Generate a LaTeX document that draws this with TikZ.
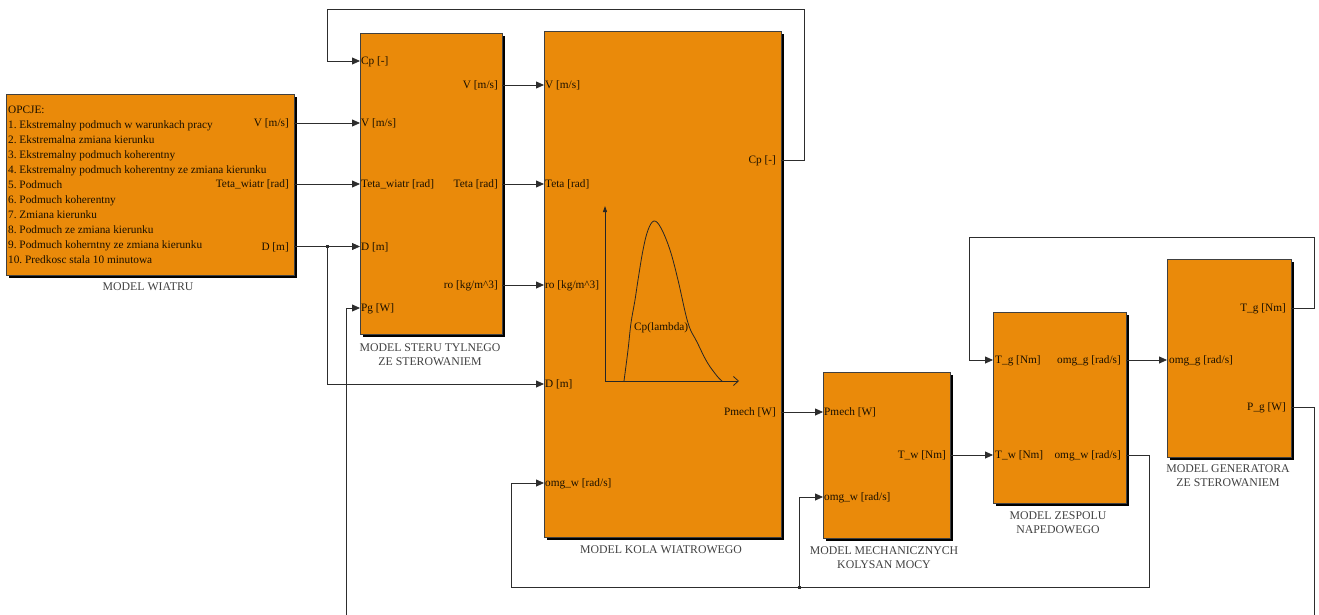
\documentclass[tikz,border=0pt]{standalone}
\usepackage{fontspec}
\setmainfont{Liberation Serif}
\usetikzlibrary{arrows.meta,shadows}
\definecolor{blkfill}{RGB}{234,138,10}
\definecolor{wirec}{RGB}{45,45,45}
\definecolor{txtc}{RGB}{25,15,0}
\frenchspacing
\begin{document}
\begin{tikzpicture}[x=1pt,y=-1pt,
  blk/.style={draw=black!75, fill=blkfill, line width=0.8pt, inner sep=0pt,
    general shadow={fill=black, shadow xshift=3pt, shadow yshift=-3pt}},
  wire/.style={draw=wirec, line width=0.8pt},
  sig/.style={wire, -{Triangle[length=8pt,width=7pt]}},
  inl/.style={anchor=base west, inner sep=0pt, yshift=-3.7pt, text=txtc, font=\fontsize{11.3}{13}\selectfont},
  outl/.style={anchor=base east, inner sep=0pt, yshift=-3.7pt, text=txtc, font=\fontsize{11.3}{13}\selectfont},
  ttl/.style={align=center, inner sep=0pt, text=black!75, font=\fontsize{11.8}{14}\selectfont},
  jdot/.style={fill=wirec, rectangle, inner sep=0pt, minimum size=3pt}]
\useasboundingbox (0,0) rectangle (1319,615);

% blocks
\node[blk, minimum width=288pt, minimum height=181pt] (wind) at (150,184.5) {};
\node[blk, minimum width=142pt, minimum height=301pt] (steru) at (431,183.5) {};
\node[blk, minimum width=237pt, minimum height=506pt] (kola) at (662.5,284) {};
\node[blk, minimum width=127pt, minimum height=166pt] (mech) at (886.5,455) {};
\node[blk, minimum width=133pt, minimum height=191pt] (zesp) at (1059.5,407.5) {};
\node[blk, minimum width=124pt, minimum height=198pt] (gen) at (1229,358) {};

% titles
\node[ttl] (twind) at (148,287) {MODEL WIATRU};
\node[ttl] (tsteru) at (430,355) {MODEL STERU TYLNEGO\\ZE STEROWANIEM};
\node[ttl] (tkola) at (661,549.5) {MODEL KOLA WIATROWEGO};
\node[ttl] (tmech) at (884,557.5) {MODEL MECHANICZNYCH\\KOLYSAN MOCY};
\node[ttl] (tzesp) at (1058,523) {MODEL ZESPOLU\\NAPEDOWEGO};
\node[ttl] (tgen) at (1228,476) {MODEL GENERATORA\\ZE STEROWANIEM};

% wind block text
\node[anchor=north west, inner sep=0pt, align=left, text=txtc, font=\fontsize{11.3}{15}\selectfont] (opts) at (8,106.3)
 {OPCJE:\\
  1. Ekstremalny podmuch w warunkach pracy\\
  2. Ekstremalna zmiana kierunku\\
  3. Ekstremalny podmuch koherentny\\
  4. Ekstremalny podmuch koherentny ze zmiana kierunku\\
  5. Podmuch\\
  6. Podmuch koherentny\\
  7. Zmiana kierunku\\
  8. Podmuch ze zmiana kierunku\\
  9. Podmuch koherntny ze zmiana kierunku\\
  10. Predkosc stala 10 minutowa};

% port coordinates
\coordinate (wV) at (294,123);
\coordinate (wT) at (294,184);
\coordinate (wD) at (294,246.5);
\coordinate (sCp) at (360,61);
\coordinate (sV) at (360,123);
\coordinate (sT) at (360,184);
\coordinate (sD) at (360,246.5);
\coordinate (sPg) at (360,308);
\coordinate (soV) at (502,85);
\coordinate (soT) at (502,184);
\coordinate (soR) at (502,285);
\coordinate (kV) at (544,85);
\coordinate (kT) at (544,184);
\coordinate (kR) at (544,285);
\coordinate (kD) at (544,384);
\coordinate (kW) at (544,483);
\coordinate (koCp) at (781,160);
\coordinate (koP) at (781,412);
\coordinate (mP) at (823,412);
\coordinate (mW) at (823,497);
\coordinate (moT) at (950,455);
\coordinate (zTg) at (993,360);
\coordinate (zTw) at (993,455);
\coordinate (zoG) at (1126,360);
\coordinate (zoW) at (1126,455);
\coordinate (gG) at (1167,360);
\coordinate (goT) at (1291,308);
\coordinate (goP) at (1291,407);
\coordinate (pgEnd) at (1314,615);
\coordinate (pgStart) at (346,615);

% port labels
\node[outl] (lwV) at (289,123) {V [m/s]};
\node[outl] (lwT) at (289,184) {Teta\_wiatr [rad]};
\node[outl] (lwD) at (289,246.5) {D [m]};

\node[inl] (lsCp) at (361,61) {Cp [-]};
\node[inl] (lsV) at (361,123) {V [m/s]};
\node[inl] (lsT) at (361,184) {Teta\_wiatr [rad]};
\node[inl] (lsD) at (361,246.5) {D [m]};
\node[inl] (lsPg) at (361,308) {Pg [W]};
\node[outl] (lsoV) at (498,85) {V [m/s]};
\node[outl] (lsoT) at (498,184) {Teta [rad]};
\node[outl] (lsoR) at (498,285) {ro [kg/m\textasciicircum 3]};

\node[inl] (lkV) at (545,85) {V [m/s]};
\node[inl] (lkT) at (545,184) {Teta [rad]};
\node[inl] (lkR) at (545,285) {ro [kg/m\textasciicircum 3]};
\node[inl] (lkD) at (545,384) {D [m]};
\node[inl] (lkW) at (545,483) {omg\_w [rad/s]};
\node[outl] (lkoCp) at (776,160) {Cp [-]};
\node[outl] (lkoP) at (776,412) {Pmech [W]};

\node[inl] (lmP) at (824,412) {Pmech [W]};
\node[inl] (lmW) at (824,497) {omg\_w [rad/s]};
\node[outl] (lmoT) at (946,455) {T\_w [Nm]};

\node[inl] (lzTg) at (995,360) {T\_g [Nm]};
\node[inl] (lzTw) at (995,455) {T\_w [Nm]};
\node[outl] (lzoG) at (1121,360) {omg\_g [rad/s]};
\node[outl] (lzoW) at (1121,455) {omg\_w [rad/s]};

\node[inl] (lgG) at (1169,360) {omg\_g [rad/s]};
\node[outl] (lgoT) at (1286,308) {T\_g [Nm]};
\node[outl] (lgoP) at (1286,407) {P\_g [W]};

% Cp(lambda) plot inside wind-wheel block
\coordinate (ax0) at (605,381);
\coordinate (axY) at (605,206);
\coordinate (axX) at (739,381);
\draw[draw=black!85, line width=0.8pt, -{Triangle[length=6pt,width=4pt]}] (ax0) -- (axY);
\draw[draw=black!85, line width=0.8pt, -{Straight Barb[length=5pt,width=9pt]}] (ax0) -- (axX);
\draw[draw=black!85, line width=0.8pt] plot[smooth, tension=0.6] coordinates
  {(624,381) (628,350) (631,323) (635,300) (638,280) (643,250) (648,230) (654,221)
   (661,228) (670,250) (678,280) (688,323) (697,342) (707,362) (717,376) (722,381)};
\node[inl] (lcp) at (634,327) {Cp(lambda)};

% connections
\draw[sig] (wV) -- (sV);
\draw[sig] (wT) -- (sT);
\draw[sig] (wD) -- (sD);
\node[jdot] (jD) at (327,246.5) {};
\draw[sig] (jD.center) |- (kD);

\draw[sig] (soV) -- (kV);
\draw[sig] (soT) -- (kT);
\draw[sig] (soR) -- (kR);

\draw[sig] (koCp) -| (804,9) -| (327,61) -- (sCp);

\draw[sig] (pgStart) |- (sPg);
\draw[wire] (goP) -| (pgEnd);

\draw[sig] (koP) -- (mP);
\draw[sig] (moT) -- (zTw);
\draw[sig] (zoG) -- (gG);
\draw[sig] (goT) -| (1314,237) -| (969,360) -- (zTg);

\node[jdot] (jW) at (799,587) {};
\draw[sig] (zoW) -| (1149,587) -| (511,483) -- (kW);
\draw[sig] (jW.center) |- (mW);

\end{tikzpicture}
\end{document}
